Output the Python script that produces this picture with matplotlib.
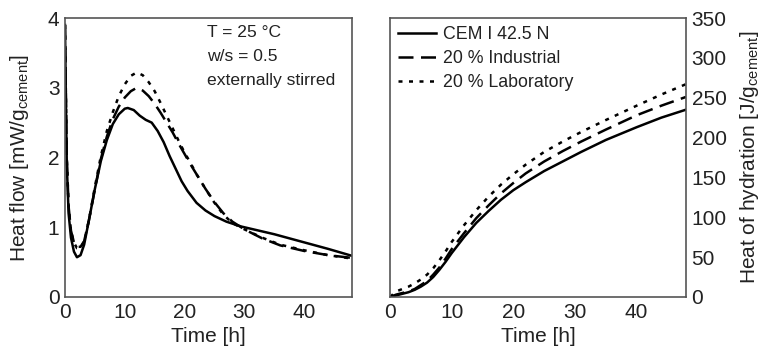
import matplotlib
matplotlib.use("Agg")
import matplotlib.pyplot as plt
import numpy as np

plt.rcParams['font.family'] = ['Liberation Sans', 'DejaVu Sans']
plt.rcParams['mathtext.fontset'] = 'custom'
plt.rcParams['mathtext.rm'] = 'Liberation Sans'

# Heat flow (left panel)
t_flow_cem = [0, 0.15, 0.3, 0.6, 1.0, 1.5, 2.0, 2.6, 3.2, 4.0, 5.0, 6.0, 7.0, 8.0, 9.0, 10.0, 10.5, 11.5,
              12.5, 13.5, 14.5, 15.5, 16.5, 17.5, 18.5, 19.5, 20.5, 22, 23.5, 25, 27, 29.5, 32, 35, 38, 41, 44, 48]
q_flow_cem = [3.9, 2.8, 1.9, 1.2, 0.85, 0.65, 0.57, 0.6, 0.75, 1.1, 1.55, 1.95, 2.25, 2.48, 2.62, 2.7, 2.71, 2.68,
              2.6, 2.54, 2.5, 2.38, 2.22, 2.02, 1.84, 1.66, 1.52, 1.35, 1.24, 1.16, 1.08, 1.01, 0.96, 0.9, 0.83, 0.76, 0.69, 0.59]

t_flow_ind = [0, 0.15, 0.3, 0.6, 1.0, 1.5, 2.0, 2.6, 3.2, 4.0, 5.0, 6.0, 7.0, 8.0, 9.0, 10.0, 11.0, 12.0,
              13.0, 14.0, 15.0, 16.0, 17.0, 18.0, 19.0, 20.0, 21.0, 22, 23.5, 25, 26.5, 28, 30, 33, 36, 40, 44, 48]
q_flow_ind = [3.9, 2.9, 2.0, 1.3, 0.95, 0.78, 0.72, 0.72, 0.8, 1.1, 1.55, 1.98, 2.3, 2.55, 2.73, 2.86, 2.95, 3.0,
              2.96, 2.88, 2.77, 2.64, 2.5, 2.36, 2.2, 2.05, 1.9, 1.76, 1.55, 1.36, 1.2, 1.08, 0.97, 0.84, 0.74, 0.66, 0.6, 0.56]

t_flow_lab = [0, 0.15, 0.3, 0.6, 1.0, 1.5, 2.0, 2.6, 3.2, 4.0, 5.0, 6.0, 7.0, 8.0, 9.0, 10.0, 11.0, 12.0,
              13.0, 14.0, 15.0, 16.0, 17.0, 18.0, 19.0, 20.0, 21.0, 22, 23.5, 25, 26.5, 28, 30, 33, 36, 40, 44, 48]
q_flow_lab = [3.9, 2.9, 2.0, 1.3, 0.95, 0.78, 0.7, 0.7, 0.8, 1.1, 1.58, 2.02, 2.38, 2.65, 2.88, 3.05, 3.17, 3.22,
              3.18, 3.08, 2.95, 2.78, 2.6, 2.42, 2.24, 2.07, 1.92, 1.76, 1.55, 1.35, 1.18, 1.06, 0.97, 0.85, 0.75, 0.67, 0.6, 0.55]

# Cumulative heat of hydration (right panel)
t_heat = [0, 1, 2, 3, 4, 5, 6, 7, 8, 9, 10, 12, 14, 16, 18, 20, 22, 25, 28, 31, 35, 40, 44, 48]
h_cem = [0, 2, 4, 6, 9, 13, 18, 25, 34, 44, 55, 75, 93, 108, 122, 134, 144, 158, 170, 182, 197, 213, 225, 235]
h_ind = [0, 3, 5, 7, 10, 15, 20, 28, 37, 48, 60, 80, 99, 115, 130, 143, 155, 170, 183, 195, 210, 228, 240, 251]
h_lab = [0, 7, 10, 13, 17, 22, 28, 36, 46, 57, 69, 90, 109, 126, 141, 154, 166, 182, 195, 207, 222, 240, 254, 267]

time_ticks = [0, 10, 20, 30, 40]
flow_ticks = [0, 1, 2, 3, 4]
heat_ticks = [0, 50, 100, 150, 200, 250, 300, 350]
labels = ['CEM I 42.5 N', '20 % Industrial', '20 % Laboratory']

fig = plt.figure(figsize=(7.64, 3.6), dpi=100)
ax1 = fig.add_axes([65/764, 1 - 297/360, (352-65)/764, (297-18)/360])
ax2 = fig.add_axes([390/764, 1 - 297/360, (686-390)/764, (297-18)/360])

lw = 1.8
spine_col = '#555555'
txt_col = '#222222'
dash = (0, (6, 3))
dot = (0, (1.6, 2.6))

ax1.plot(t_flow_cem, q_flow_cem, color='black', lw=lw, ls='-')
ax1.plot(t_flow_ind, q_flow_ind, color='black', lw=lw, ls=dash)
ax1.plot(t_flow_lab, q_flow_lab, color='black', lw=lw, ls=dot)

ax2.plot(t_heat, h_cem, color='black', lw=lw, ls='-', label=labels[0])
ax2.plot(t_heat, h_ind, color='black', lw=lw, ls=dash, label=labels[1])
ax2.plot(t_heat, h_lab, color='black', lw=lw, ls=dot, label=labels[2])

for ax in (ax1, ax2):
    ax.set_xlim(0, 48)
    ax.set_xticks(time_ticks)
    ax.tick_params(length=0, labelsize=15, colors=txt_col, pad=4)
    for s in ax.spines.values():
        s.set_color(spine_col)
        s.set_linewidth(1.2)
    ax.set_xlabel('Time [h]', fontsize=15, color=txt_col, labelpad=4)

ax1.set_ylim(0, 4)
ax1.set_yticks(flow_ticks)
ax1.set_ylabel('Heat flow [mW/g$_\\mathregular{cement}$]', fontsize=15, color=txt_col, labelpad=12)

ax2.set_ylim(0, 350)
ax2.set_yticks(heat_ticks)
ax2.yaxis.tick_right()
ax2.yaxis.set_label_position('right')
ax2.set_ylabel('Heat of hydration [J/g$_\\mathregular{cement}$]', fontsize=15, color=txt_col, labelpad=8)

ax1.text(0.495, 0.975, 'T = 25 °C\nw/s = 0.5\nexternally stirred', transform=ax1.transAxes,
         ha='left', va='top', fontsize=12.6, color=txt_col, linespacing=1.75)

leg = ax2.legend(loc='upper left', frameon=False, fontsize=12.8, handlelength=2.15,
                 handletextpad=0.4, borderaxespad=0.2, borderpad=0.25, labelspacing=0.4)
for t in leg.get_texts():
    t.set_color(txt_col)

fig.savefig('out.png', dpi=100)
